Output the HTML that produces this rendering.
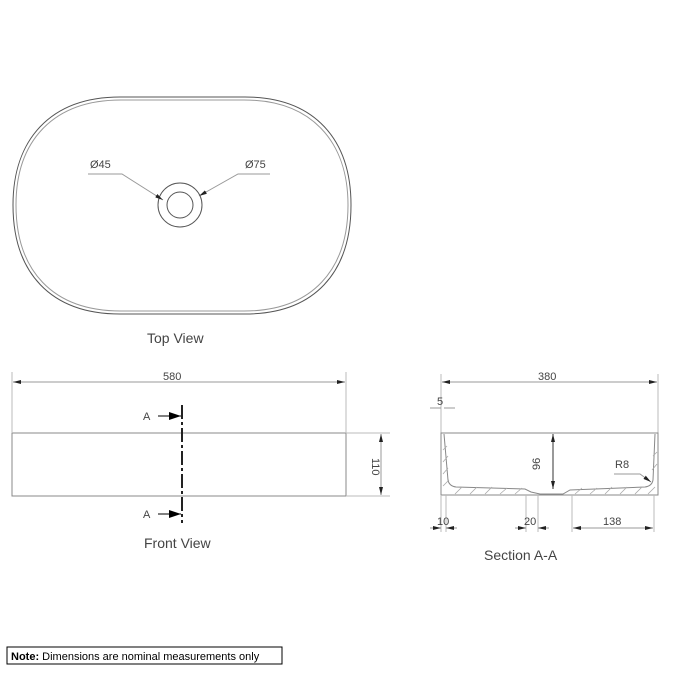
<!DOCTYPE html>
<html><head><style>body{margin:0;background:#fff}svg{display:block}text{font-family:"Liberation Sans",sans-serif;fill:#444}</style></head><body>
<svg width="675" height="675" viewBox="0 0 675 675">
<defs><marker id="a" markerWidth="8" markerHeight="6" refX="8" refY="3" orient="auto-start-reverse" markerUnits="userSpaceOnUse"><path d="M0,1 L8,3 L0,5z" fill="#222"/></marker>
<marker id="b" markerWidth="12" markerHeight="8" refX="12" refY="4" orient="auto" markerUnits="userSpaceOnUse"><path d="M0,0 L12,4 L0,8z" fill="#000"/></marker></defs>
<g fill="none" stroke="#555" stroke-width="1">
<path d="M120,97 L245,97 C315,97 351,140 351,205 C351,272 315,314 245,314 L120,314 C50,314 13,272 13,205 C13,140 50,97 120,97 Z"/>
<path d="M121,100 L244,100 C312,100 348,142 348,205 C348,270 312,311 244,311 L121,311 C52,311 16,270 16,205 C16,142 52,100 121,100 Z" stroke="#999"/>
<circle cx="180" cy="205" r="22"/><circle cx="180" cy="205" r="13"/>
<path d="M88,174 H122 L163,200" stroke="#999" marker-end="url(#a)"/>
<path d="M270,174 H238 L199,196" stroke="#999" marker-end="url(#a)"/>
<rect x="12" y="433" width="334" height="63" stroke="#888"/>
<path d="M12,372 V433 M346,372 V433 M346,433 H390 M346,496 H390" stroke="#bbb"/>
<path d="M13,382 H345" stroke="#999" marker-start="url(#a)" marker-end="url(#a)"/>
<path d="M381,434 V495" stroke="#999" marker-start="url(#a)" marker-end="url(#a)"/>
<path d="M182,405 V523" stroke="#222" stroke-width="2" stroke-dasharray="14,3,3,3"/>
<path d="M158,416 H181" stroke="#000" marker-end="url(#b)"/>
<path d="M158,514 H181" stroke="#000" marker-end="url(#b)"/>
<path d="M441,374 V433 M658,374 V433" stroke="#bbb"/>
<path d="M442,382 H657" stroke="#999" marker-start="url(#a)" marker-end="url(#a)"/>
<path d="M430,408 H441 M444,408 H455" stroke="#999"/>
<path d="M441,433 H658 V495 H441 Z" stroke="#888"/>
<path d="M444,434 L448,480 Q449,486 456,487 L525,489 L531,492 L540,494 L563,494 L570,490 L645,487 Q652,486 653,480 L655,434" stroke="#888"/>
<path d="M553,434 V489" stroke="#333" marker-start="url(#a)" marker-end="url(#a)"/>
<path d="M614,474 H640 L651,482" stroke="#999" marker-end="url(#a)"/>
<path d="M441,495 V532 M446,495 V532 M526,495 V532 M538,495 V532 M572,495 V532 M654,495 V532" stroke="#bbb"/>
<path d="M430,528 H441" stroke="#999" marker-end="url(#a)"/>
<path d="M457,528 H446" stroke="#999" marker-end="url(#a)"/>
<path d="M515,528 H526" stroke="#999" marker-end="url(#a)"/>
<path d="M549,528 H538" stroke="#999" marker-end="url(#a)"/>
<path d="M573,528 H653" stroke="#999" marker-start="url(#a)" marker-end="url(#a)"/>
<g stroke="#aaa" stroke-width="0.8">
<path d="M443,450 L447,446 M443,462 L448,456 M443,474 L448,468 M443,486 L449,480 M455,494 L462,487 M470,494 L477,487 M485,494 L492,487 M500,494 L507,488 M515,494 L522,488 M575,494 L582,488 M590,494 L597,488 M605,494 L612,487 M620,494 L627,487 M635,494 L642,487 M648,494 L655,487 M652,470 L657,464 M653,456 L657,452"/></g>
<rect x="7" y="647" width="275" height="17" stroke="#000"/>
</g>
<g font-size="11">
<text x="90" y="168">Ø45</text><text x="245" y="168">Ø75</text>
<text x="163" y="380">580</text><text x="538" y="380">380</text>
<text x="437" y="405">5</text>
<text x="437" y="525">10</text><text x="524" y="525">20</text><text x="603" y="525">138</text>
<text x="615" y="468">R8</text>
<text x="143" y="420">A</text><text x="143" y="518">A</text>
<text transform="translate(372,458) rotate(90)">110</text>
<text transform="translate(540,470) rotate(-90)">96</text>
</g>
<g font-size="14"><text x="147" y="343">Top View</text><text x="144" y="548">Front View</text><text x="484" y="560">Section A-A</text></g>
<text x="11" y="660" font-size="11" style="fill:#000"><tspan font-weight="bold">Note:</tspan> Dimensions are nominal measurements only</text>
</svg></body></html>
